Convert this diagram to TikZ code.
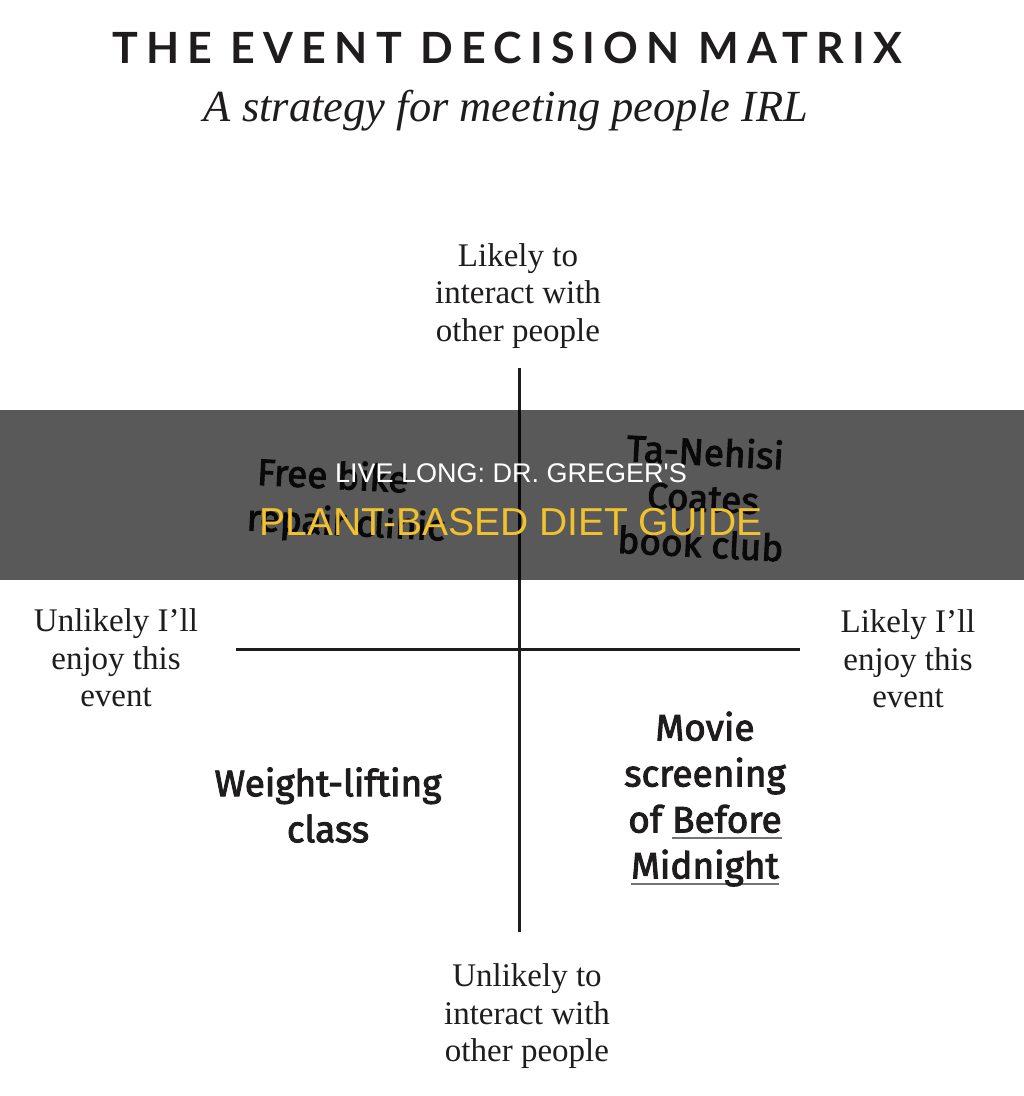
\documentclass[tikz,border=0pt]{standalone}
\usepackage{fontspec}
\setmainfont{Liberation Serif}
\newfontfamily\titlefont{Lato}[LetterSpace=19]
\newfontfamily\bannerfont{Liberation Sans}
\newfontfamily\hand{Fira Sans}[FakeBold=2.5]
\definecolor{bannery}{HTML}{F2C12E}
\definecolor{ink}{HTML}{1E1C1C}
\newsavebox\ulbox
\newcommand\grayul[1]{\sbox\ulbox{#1}\rlap{\textcolor{black!55}{\rule[-0.17em]{\wd\ulbox}{1.4pt}}}\usebox\ulbox}
\tikzset{
  axisline/.style={line width=3pt, draw=ink},
  axislabel/.style={align=center, inner sep=0pt, text=ink, font=\fontsize{33}{37.5}\selectfont},
  handtext/.style={align=center, inner sep=0pt, text=ink, font=\hand\fontsize{37}{46}\selectfont},
  bannerline/.style={inner sep=0pt, anchor=base},
}
\begin{document}
\begin{tikzpicture}[x=1pt, y=-1pt]
\useasboundingbox (0,0) rectangle (1024,1096);
\fill[white] (0,0) rectangle (1024,1096);

% title
\node[inner sep=0pt, anchor=base, text=ink, font=\titlefont\bfseries\fontsize{43}{43}\selectfont] (title) at (507,63) {THE EVENT DECISION MATRIX};
\node[inner sep=0pt, anchor=base, text=ink, font=\itshape\fontsize{44.5}{44.5}\selectfont] (subtitle) at (506,121) {A strategy for meeting people IRL};

% axes
\coordinate (top) at (519,368);
\coordinate (bot) at (519,932);
\coordinate (lft) at (236,649);
\coordinate (rgt) at (800,649);
\draw[axisline] (top) -- (bot);
\draw[axisline] (lft) -- (rgt);

% axis labels
\node[axislabel] (toplabel) at (518,296) {Likely to\\interact with\\other people};
\node[axislabel] (leftlabel) at (116,658) {Unlikely I’ll\\enjoy this\\event};
\node[axislabel] (rightlabel) at (908,659) {Likely I’ll\\enjoy this\\event};
\node[axislabel] (botlabel) at (527,1016.5) {Unlikely to\\interact with\\other people};

% handwritten entries
\node[handtext, rotate=-3] (bookclub) at (703,497) {Ta-Nehisi\\Coates\\book club};
\node[handtext, align=left, rotate=-3] (bike) at (347,502) {\hspace*{8pt}Free bike\\repair clinic};
\node[handtext] (weights) at (328,805) {Weight-lifting\\class};
\node[handtext] (movie) at (705,799) {Movie\\screening\\of \grayul{Before}\\\grayul{Midnight}};

% overlay banner
\fill[black, opacity=0.65] (0,410) rectangle (1024,580);
\node[bannerline, text=white, font=\bannerfont\fontsize{27}{27}\selectfont] (banner1) at (511,482) {LIVE LONG: DR. GREGER'S};
\node[bannerline, text=bannery, font=\bannerfont\fontsize{39}{39}\selectfont] (banner2) at (511,535) {PLANT-BASED DIET GUIDE};
\end{tikzpicture}
\end{document}
